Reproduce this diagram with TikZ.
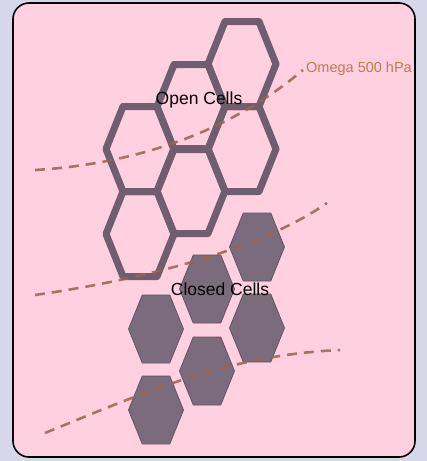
\documentclass[tikz,border=0pt]{standalone}
\usepackage{fontspec}
\setmainfont{Liberation Sans}
\definecolor{outerbg}{HTML}{D6D8EA}
\definecolor{panel}{HTML}{FFD0E0}
\definecolor{hexline}{HTML}{6E5E6E}
\definecolor{hexfill}{HTML}{7A6C7C}
\definecolor{dashc}{HTML}{9A6252}
\definecolor{omegac}{HTML}{C07A50}
\begin{document}
\begin{tikzpicture}[x=1pt,y=-1pt,
  openhex/.pic={\draw[hexline,line width=7pt,line join=round]
     (-34,0) -- (-17,-42.5) -- (17,-42.5) -- (34,0) -- (17,42.5) -- (-17,42.5) -- cycle;},
  closedhex/.pic={\filldraw[fill=hexfill,draw=hexline!90!black,line width=0.8pt]
     (-27.5,0) -- (-13.75,-34) -- (13.75,-34) -- (27.5,0) -- (13.75,34) -- (-13.75,34) -- cycle;},
  omega/.style={draw=dashc,line width=2.6pt,dash pattern=on 10pt off 7pt,opacity=0.85},
  lbl/.style={font=\fontsize{17.5}{17.5}\selectfont,inner sep=0pt}]
\useasboundingbox (0,0) rectangle (427,461);
\fill[outerbg] (0,0) rectangle (427,461);
\draw[fill=panel,line width=1.6pt,rounded corners=16pt] (13,3) rectangle (415,457);
% open cells
\pic at (242,64) {openhex};
\pic at (191,107) {openhex};
\pic at (140,149) {openhex};
\pic at (242,149) {openhex};
\pic at (191,191) {openhex};
\pic at (140,234) {openhex};
% closed cells
\pic at (257,247) {closedhex};
\pic at (207,289) {closedhex};
\pic at (257,328) {closedhex};
\pic at (156,329) {closedhex};
\pic at (207,371) {closedhex};
\pic at (156,410) {closedhex};
% omega lines
\coordinate (o1s) at (35,170);
\coordinate (o1e) at (303,70);
\coordinate (o2s) at (35,295);
\coordinate (o2e) at (327,203);
\coordinate (o3s) at (45,433);
\coordinate (o3e) at (340,350);
\draw[omega] (o1s) .. controls (120,165) and (220,140) .. (o1e);
\draw[omega] (o2s) .. controls (140,280) and (260,250) .. (o2e);
\draw[omega] (o3s) .. controls (150,390) and (230,355) .. (o3e);
% labels
\node[lbl] (open) at (199,100) {Open Cells};
\node[lbl] (closed) at (220,289) {Closed Cells};
\node[lbl,anchor=west,text=omegac,font=\fontsize{14.5}{14.5}\selectfont] (om) at (306,69) {Omega 500 hPa};
\end{tikzpicture}
\end{document}
